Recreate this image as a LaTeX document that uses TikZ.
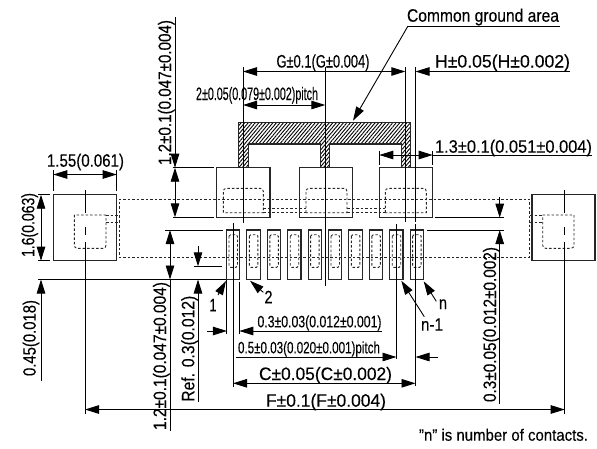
\documentclass[tikz,border=0pt]{standalone}
\usepackage{fontspec}
\usepackage{graphicx}
\usetikzlibrary{arrows.meta,patterns.meta}
\setmainfont[FakeBold=0.2]{Liberation Sans}
\newcommand{\dimtext}[2]{\resizebox{#1pt}{\height}{#2}}
\begin{document}
\begin{tikzpicture}[x=1pt,y=-1pt,line width=.9pt,
   >={Triangle[length=14pt,width=8.5pt]},
   every node/.style={inner sep=0pt,anchor=base,font=\fontsize{18pt}{18pt}\selectfont},
   upright/.style={rotate=90},
   smalltext/.style={font=\fontsize{16.5pt}{18pt}\selectfont},
   outline/.style={draw=black!85,line width=1.1pt},
   hidden/.style={draw=black!85,line width=.9pt,dash pattern=on 2.5pt off 2pt}]
\useasboundingbox (0,0) rectangle (597,448);
\fill[white] (0,0) rectangle (597,448);

\draw[hidden] (119,222) -- (119,199) -- (529.5,199) -- (529.5,257) -- (119,257) -- (119,222);

\draw[outline] (53.3,194.7) rectangle (116.7,260.7);
\draw[hidden] (106,215) -- (74.3,215) [rounded corners=3pt] -- (74.3,248.3) -- (106,248.3) [sharp corners] -- (106,215);
\draw[hidden] (106,215) -- (119,215) (106,222.3) -- (119,222.3);
\draw (85,190) -- (85,213) (85,227) -- (85,235) (85,242) -- (85,414);

\draw[outline] (532,194.7) rectangle (595,260.7);
\draw[hidden] (542.7,215) -- (574,215) [rounded corners=3pt] -- (574,248.3) -- (542.7,248.3) [sharp corners] -- (542.7,215);
\draw[hidden] (530,215) -- (542.7,215) (530,222.3) -- (542.7,222.3);
\draw (564.7,190) -- (564.7,213) (564.7,227) -- (564.7,235) (564.7,242) -- (564.7,414);

\filldraw[draw=black!85,line width=1.1pt,fill=white,pattern={Lines[angle=50,distance=2.7pt,line width=.9pt]}]
  (238.3,167.7) -- (238.3,122.7) -- (410.5,122.7) -- (410.5,167.7) -- (401.3,167.7) -- (401.3,144)
  -- (329.5,144) -- (329.5,167.7) -- (320.3,167.7) -- (320.3,144) -- (248.3,144) -- (248.3,167.7) -- cycle;

\foreach \xa/\xb in {216.7/270,299.3/352.7,379.3/432.7}
  \draw[outline] (\xa,167.7) rectangle (\xb,217.3);
\foreach \xa/\xb in {223.3/263.3,306/347,385.3/426.3}
  \draw[hidden] (\xa,212.7) [rounded corners=3pt] -- (\xa,188.3) -- (\xb,188.3) [sharp corners] -- (\xb,212.7) -- cycle;
\draw[hidden] (263.3,208) -- (306,208) (347,208) -- (385.3,208) (263.3,212.7) -- (306,212.7) (347,212.7) -- (385.3,212.7);

\foreach \n [evaluate=\n as \xa using 226.5+20.4*\n, evaluate=\n as \xb using 239.8+20.4*\n,
             evaluate=\n as \xc using 229+20.4*\n, evaluate=\n as \xd using 237.5+20.4*\n] in {0,...,9} {
  \draw[outline] (\xa,230) rectangle (\xb,279.5);
  \draw[hidden,rounded corners=1.5pt] (\xc,234.7) rectangle (\xd,267.3);
}

\draw (243,67) -- (243,223);
\draw (325.3,67) -- (325.3,286);
\draw (405.3,67) -- (405.3,222);
\draw (415.5,67) -- (415.5,222) (415.5,224) -- (415.5,386);
\draw (233,223) -- (233,387);
\draw (396.5,224) -- (396.5,359);
\draw (226.9,280) -- (226.9,334) (239.3,282) -- (239.3,334);

\draw (173,167.7) -- (214,167.7) (173,217.3) -- (214,217.3);
\draw (165,230) -- (223,230);
\draw (38,279.5) -- (226,279.5);
\draw (194,266.3) -- (222,266.3);
\draw (38,194.7) -- (50,194.7) (38,260.7) -- (50,260.7);
\draw (53.3,170) -- (53.3,191) (116.7,170) -- (116.7,191);
\draw (379.3,151) -- (379.3,165) (432.7,151) -- (432.7,165);
\draw (435,217.7) -- (504,217.7) (427,230) -- (504,230);

\draw[->] (175,17) -- (175,167.7);
\draw[<->] (175,167.7) -- (175,217.3);
\draw[<->] (170,230) -- (170,279.5);
\draw (170,279.5) -- (170,431);
\draw[->] (198,245.5) -- (198,266.3);
\draw[->] (198,402) -- (198,279.5);
\draw[<->] (41,194.7) -- (41,260.7);
\draw[->] (41,381) -- (41,279.5);
\draw[->] (499.7,197) -- (499.7,217.7);
\draw[->] (499.7,404) -- (499.7,230);

\draw[<->] (53.3,174.5) -- (116.7,174.5);
\draw[<->] (243,71.5) -- (405.3,71.5);
\draw[->] (570,71.5) -- (415.5,71.5);
\draw[<->] (243,105) -- (325.3,105);
\draw[<->] (379.3,155) -- (432.7,155);
\draw (432.7,155) -- (592,155);
\draw[->] (207,331) -- (226.9,331);
\draw[->] (382,331) -- (239.3,331);
\draw[->] (236,357) -- (396.5,357);
\draw[->] (438,357) -- (415.5,357);
\draw[<->] (233,383.3) -- (415.5,383.3);
\draw[<->] (85,409.5) -- (564.7,409.5);

\coordinate (leader) at (408,26);
\draw (leader) -- (560,26);
\coordinate (leadtip) at (353,120.7);
\draw[->] (leader) -- (leadtip);
\coordinate (onefrom) at (218,295);  \coordinate (onetip) at (226,281);
\draw[->] (onefrom) -- (onetip);
\coordinate (twofrom) at (263.3,292.3);  \coordinate (twotip) at (250,280.7);
\draw[->] (twofrom) -- (twotip);
\coordinate (nfrom) at (436.3,301.3);  \coordinate (ntip) at (423.7,281.3);
\draw[->] (nfrom) -- (ntip);
\coordinate (nprevfrom) at (424.3,316.7);  \coordinate (nprevtip) at (401.3,280.7);
\draw[->] (nprevfrom) -- (nprevtip);

\node (common) at (483,21.7) {\dimtext{152}{Common ground area}};
\node (gdim) at (323,67.5) {\dimtext{93}{G±0.1(G±0.004)}};
\node (hdim) at (502.5,67.5) {\dimtext{135}{H±0.05(H±0.002)}};
\node (pitchtop) at (257,100) {\dimtext{122}{2±0.05(0.079±0.002)pitch}};
\node (widthtop) at (513.5,152.7) {\dimtext{157}{1.3±0.1(0.051±0.004)}};
\node (padwidth) at (85.5,166.7) {\dimtext{77}{1.55(0.061)}};
\node[smalltext] (contactw) at (319.5,327.3) {\dimtext{124}{0.3±0.03(0.012±0.001)}};
\node[smalltext] (pitchlow) at (309,353.3) {\dimtext{142}{0.5±0.03(0.020±0.001)pitch}};
\node (cdim) at (325.5,380) {\dimtext{133}{C±0.05(C±0.002)}};
\node (fdim) at (326,406.7) {\dimtext{120}{F±0.1(F±0.004)}};
\node[smalltext] (note) at (503.5,440.7) {\dimtext{169}{"n" is number of contacts.}};
\node (one) at (213,311.3) {\dimtext{7}{1}};
\node (two) at (268.5,303.3) {\dimtext{8}{2}};
\node (nlast) at (443,309) {\dimtext{8}{n}};
\node (nprev) at (432,330.7) {\dimtext{22}{n-1}};

\node[upright] (upperh) at (171,92.5) {\dimtext{145}{1.2±0.1(0.047±0.004)}};
\node[upright] (lowerh) at (166,356) {\dimtext{148}{1.2±0.1(0.047±0.004)}};
\node[upright] (refdim) at (194.3,348.7) {\dimtext{106}{Ref. 0.3(0.012)}};
\node[upright] (offset) at (35.7,338) {\dimtext{76}{0.45(0.018)}};
\node[upright] (padheight) at (34.3,225) {\dimtext{64}{1.6(0.063)}};
\node[upright] (gapdim) at (496,324.5) {\dimtext{155}{0.3±0.05(0.012±0.002)}};
\end{tikzpicture}
\end{document}
